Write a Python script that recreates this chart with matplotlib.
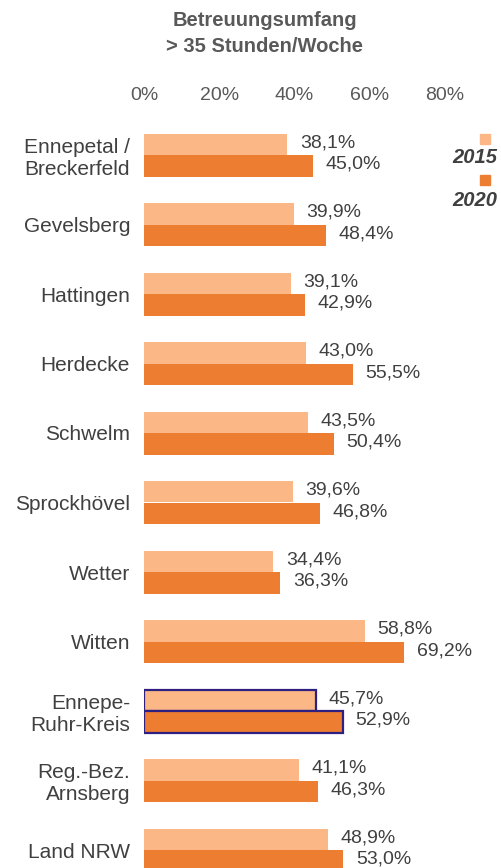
import matplotlib.pyplot as plt
from matplotlib.patches import Rectangle
import numpy as np

plt.rcParams['font.family'] = ['Liberation Sans', 'DejaVu Sans']

# Daten
regionen = ["Ennepetal /\nBreckerfeld", "Gevelsberg", "Hattingen", "Herdecke", "Schwelm",
            "Sprockhövel", "Wetter", "Witten", "Ennepe-\nRuhr-Kreis", "Reg.-Bez.\nArnsberg",
            "Land NRW"]
werte_2015 = [38.1, 39.9, 39.1, 43.0, 43.5, 39.6, 34.4, 58.8, 45.7, 41.1, 48.9]
werte_2020 = [45.0, 48.4, 42.9, 55.5, 50.4, 46.8, 36.3, 69.2, 52.9, 46.3, 53.0]
jahre = ["2015", "2020"]
x_ticks = [0, 20, 40, 60, 80]

farbe_2015 = "#FBB886"
farbe_2020 = "#ED7D31"
grau = "#595959"
text_farbe = "#404040"
W, H = 502, 868

fig = plt.figure(figsize=(W / 100, H / 100), dpi=100)

# Achse in Pixelkoordinaten platzieren
ax_left, ax_right = 144, 502
ax_top, ax_bottom = 110, 868
ax = fig.add_axes([ax_left / W, 1 - ax_bottom / H, (ax_right - ax_left) / W, (ax_bottom - ax_top) / H])

px_per_pct = 3.76
px_per_group = 69.5
y0 = 155
ax.set_xlim(0, (ax_right - ax_left) / px_per_pct)
ax.set_ylim((ax_bottom - y0) / px_per_group, (ax_top - y0) / px_per_group)

y = np.arange(len(regionen))
h = 21.5 / px_per_group

for i in range(len(regionen)):
    kreis = regionen[i].startswith("Ennepe-")
    ec = "#2E2080" if kreis else "none"
    lw = 1.6 if kreis else 0
    ax.barh(y[i] - h / 2, werte_2015[i], height=h, color=farbe_2015, edgecolor=ec, linewidth=lw)
    ax.barh(y[i] + h / 2, werte_2020[i], height=h, color=farbe_2020, edgecolor=ec, linewidth=lw)
    for off, v in [(-h / 2, werte_2015[i]), (h / 2, werte_2020[i])]:
        ax.annotate(f"{v:.1f}%".replace(".", ","), (v, y[i] + off), xytext=(9, 1),
                    textcoords="offset points", va="center", ha="left",
                    fontsize=14, color=text_farbe)

ax.set_yticks(y)
ax.set_yticklabels(regionen, fontsize=15, color=text_farbe)
ax.set_xticks(x_ticks)
ax.set_xticklabels([f"{t}%" for t in x_ticks], fontsize=14, color=grau)
ax.xaxis.tick_top()
ax.tick_params(axis="x", length=0, pad=4)
ax.tick_params(axis="y", length=0, pad=10)
for s in ax.spines.values():
    s.set_visible(False)

# Titel
fig.text(265 / W, 1 - 20 / H, "Betreuungsumfang", ha="center", va="center",
         fontsize=14.5, fontweight="bold", color=grau)
fig.text(265 / W, 1 - 46 / H, "> 35 Stunden/Woche", ha="center", va="center",
         fontsize=14.5, fontweight="bold", color=grau)

# Legende
for jahr, farbe, sy, ty in [(jahre[0], farbe_2015, 139, 158), (jahre[1], farbe_2020, 180, 200)]:
    fig.add_artist(Rectangle((480 / W, 1 - (sy + 5) / H), 10 / W, 10 / H,
                             transform=fig.transFigure, color=farbe))
    fig.text(475 / W, 1 - ty / H, jahr, ha="center", va="center", fontsize=14.5,
             fontweight="bold", fontstyle="italic", color=text_farbe)

plt.savefig("out.png", dpi=100)
